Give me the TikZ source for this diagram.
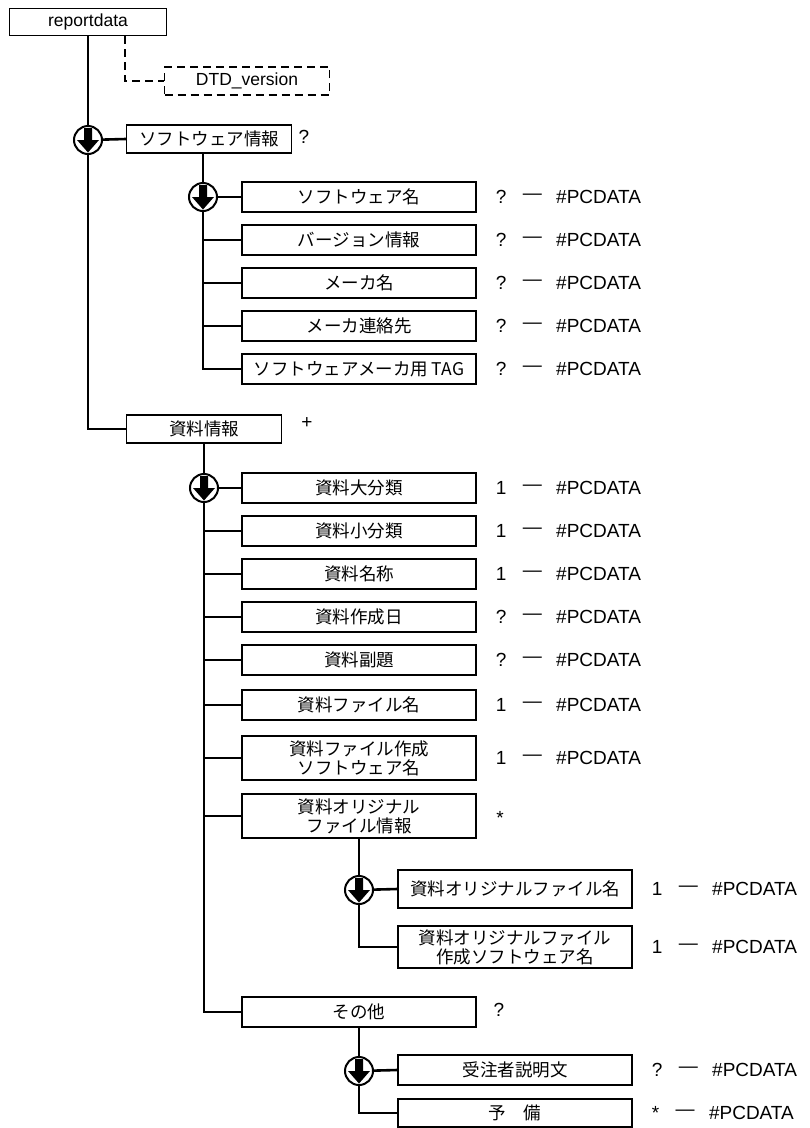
\documentclass[tikz,border=0pt]{standalone}
\usepackage{fontspec}
\setmainfont{Liberation Sans}
\newfontfamily\jpfont{Noto Sans CJK JP}
\usetikzlibrary{positioning, shadows}

\tikzset{
  elem/.style={draw, line width=1.3pt, fill=white, align=center,
    font=\jpfont\fontsize{17.5}{19}\selectfont, inner sep=1pt,
    minimum width=234pt, minimum height=30pt,
    drop shadow={shadow xshift=0.8pt, shadow yshift=-0.8pt, opacity=1, fill=black}},
  optbox/.style={draw, line width=1.3pt, dash pattern=on 8pt off 5pt, fill=white,
    font=\fontsize{17.5}{19}\selectfont, minimum width=165pt, minimum height=28pt},
  link/.style={line width=2.6pt},
  optlink/.style={line width=2pt, dash pattern=on 8pt off 5pt},
  seqmark/.style={circle, draw, line width=2pt, fill=white, minimum size=28pt, inner sep=0pt},
  card/.style={font=\fontsize{19}{21}\selectfont, inner sep=0pt},
}
% block arrow inside a sequence circle
\newcommand\seqarrow[1]{%
  \fill ([shift={(-4pt,12pt)}]#1.center) -- ++(8pt,0pt) -- ++(0pt,-12pt) -- ++(7pt,0pt)
    -- ++(-11pt,-12.5pt) -- ++(-11pt,12.5pt) -- ++(7pt,0pt) -- cycle;}
% occurrence + #PCDATA right of a leaf box
\newcommand\pcrow[2]{%
  \node[card, right=19pt of #1] (#1occ) {#2};
  \node[card, right=16pt of #1occ] (#1dash) {—};
  \node[card, right=14pt of #1dash] (#1pc) {\#PCDATA};}

\begin{document}
\begin{tikzpicture}[x=1pt, y=-1pt]
\useasboundingbox (0,0) rectangle (810,1128);

% root
\node[elem, font=\fontsize{17.5}{19}\selectfont, minimum width=157pt, minimum height=27pt] (report) at (88,22) {reportdata};
\node[optbox] (dtd) at (247,81) {DTD\_version};

% ソフトウェア情報
\node[elem, minimum width=165pt, minimum height=28pt] (swinfo) at (209,139) {ソフトウェア情報};
\node[card] (swinfoocc) at (304,137) {?};
\node[elem] (swname) at (359,197) {ソフトウェア名};
\node[elem] (swver) at (359,240) {バージョン情報};
\node[elem] (maker) at (359,283) {メーカ名};
\node[elem] (contact) at (359,326) {メーカ連絡先};
\node[elem] (swtag) at (359,369) {ソフトウェアメーカ用 TAG};

% 資料情報
\node[elem, minimum width=155pt, minimum height=28pt] (docinfo) at (204,429) {資料情報};
\node[card] (docinfoocc) at (307,423) {+};
\node[elem] (docmain) at (359,488) {資料大分類};
\node[elem] (docsub) at (359,531) {資料小分類};
\node[elem] (docname) at (359,574) {資料名称};
\node[elem] (docdate) at (359,617) {資料作成日};
\node[elem] (docsubt) at (359,660) {資料副題};
\node[elem] (docfile) at (359,705) {資料ファイル名};
\node[elem, minimum height=44pt] (docsoft) at (359,758) {資料ファイル作成\\ソフトウェア名};
\node[elem, minimum height=44pt] (docorig) at (359,816) {資料オリジナル\\ファイル情報};
\node[card] (docorigocc) at (500,818) {*};

\node[elem, minimum height=38pt] (origname) at (515,889) {資料オリジナルファイル名};
\node[elem, minimum height=42pt] (origsoft) at (515,947) {資料オリジナルファイル\\作成ソフトウェア名};

% その他
\node[elem] (other) at (359,1012) {その他};
\node[card] (otherocc) at (499,1010) {?};
\node[elem] (remark) at (515,1070) {受注者説明文};
\node[elem, minimum height=28pt] (reserve) at (515,1113) {予　備};

% occurrences
\pcrow{swname}{?}
\pcrow{swver}{?}
\pcrow{maker}{?}
\pcrow{contact}{?}
\pcrow{swtag}{?}
\pcrow{docmain}{1}
\pcrow{docsub}{1}
\pcrow{docname}{1}
\pcrow{docdate}{?}
\pcrow{docsubt}{?}
\pcrow{docfile}{1}
\pcrow{docsoft}{1}
\pcrow{origname}{1}
\pcrow{origsoft}{1}
\pcrow{remark}{?}
\pcrow{reserve}{*}

% sequence points
\coordinate (s1) at (88,140);
\coordinate (s2) at (203,197);
\coordinate (s3) at (204,488);
\coordinate (s4) at (359,890);
\coordinate (s5) at (359,1071);

% connectors
\draw[optlink] ([xshift=37pt]report.south) |- (dtd.west);
\draw[link] (report.south) |- (docinfo.west);
\draw[link] (s1) -- (swinfo.west);
\draw[link] (swinfo.south -| s2) |- (swtag.west);
\draw[link] (s2) -- (swname.west);
\foreach \n in {swver, maker, contact}
  \draw[link] (\n.west -| s2) -- (\n.west);
\draw[link] (docinfo.south -| s3) |- (other.west);
\draw[link] (s3) -- (docmain.west);
\foreach \n in {docsub, docname, docdate, docsubt, docfile, docsoft, docorig}
  \draw[link] (\n.west -| s3) -- (\n.west);
\draw[link] (docorig.south) |- (origsoft.west);
\draw[link] (s4) -- (origname.west);
\draw[link] (other.south) |- (reserve.west);
\draw[link] (s5) -- (remark.west);

% sequence marks
\foreach \s in {s1, s2, s3, s4, s5} {
  \node[seqmark] (\s m) at (\s) {};
  \seqarrow{\s m}
}
\end{tikzpicture}
\end{document}
